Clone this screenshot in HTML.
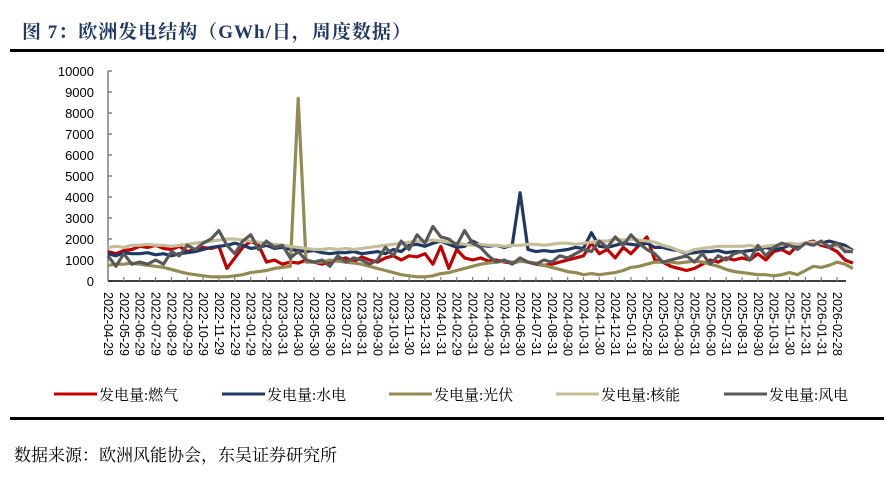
<!DOCTYPE html>
<html><head><meta charset="utf-8">
<style>
body{margin:0;background:#fff;width:886px;height:480px;overflow:hidden;position:relative;font-family:"Liberation Sans","Noto Sans CJK SC",sans-serif}
.title{position:absolute;left:22px;top:17px;font:bold 19px "Liberation Serif","Noto Serif CJK SC",serif;color:#1f3864;letter-spacing:1px}
.rule{position:absolute;left:10px;width:874px;height:3px;background:#000}
.src{position:absolute;left:14px;top:441px;font:17px "Liberation Serif","Noto Serif CJK SC",serif;color:#000}
</style></head><body>
<div class="title">图 7：欧洲发电结构（GWh/日，周度数据）</div>
<div class="rule" style="top:49px"></div>
<svg id="chart" width="886" height="480" style="position:absolute;left:0;top:0"></svg>
<div class="rule" style="top:417px"></div>
<div class="src">数据来源：欧洲风能协会，东吴证券研究所</div>
<script>
const xLabels=["2022-04-29","2022-05-29","2022-06-29","2022-07-29","2022-08-29","2022-09-29","2022-10-29","2022-11-29","2022-12-29","2023-01-29","2023-02-28","2023-03-31","2023-04-30","2023-05-30","2023-06-30","2023-07-31","2023-08-31","2023-09-30","2023-10-31","2023-11-30","2023-12-31","2024-01-31","2024-02-29","2024-03-31","2024-04-30","2024-05-31","2024-06-30","2024-07-31","2024-08-31","2024-09-30","2024-10-31","2024-11-30","2024-12-31","2025-01-31","2025-02-28","2025-03-31","2025-04-30","2025-05-31","2025-06-30","2025-07-31","2025-08-31","2025-09-30","2025-10-31","2025-11-30","2025-12-31","2026-01-31","2026-02-28"];
const yTicks=[0,1000,2000,3000,4000,5000,6000,7000,8000,9000,10000];
const seriesNames=["发电量:燃气","发电量:水电","发电量:光伏","发电量:核能","发电量:风电"];
const gas=[1400,1300,1450,1500,1650,1600,1700,1550,1500,1650,1400,1500,1600,1550,1650,600,1100,1600,1900,1700,900,1000,800,900,850,1000,900,800,900,1000,1100,900,1150,1000,900,1100,1200,1000,1200,1150,1300,800,1650,600,1500,1100,1000,1100,950,1000,900,850,950,900,800,750,800,900,1000,1100,1200,1800,1300,1500,1100,1600,1300,1700,2100,1000,900,700,600,500,600,800,1000,900,1100,1000,1100,1000,1300,1000,1400,1500,1300,1700,1800,1900,1700,1600,1400,1000,850];
const hydro=[1300,1200,1350,1300,1300,1350,1250,1300,1200,1300,1350,1400,1500,1600,1650,1700,1800,1700,1550,1600,1700,1550,1600,1500,1450,1400,1450,1350,1300,1350,1350,1400,1300,1350,1400,1300,1500,1400,1700,1750,1650,1800,1900,1750,1600,1650,1900,1700,1650,1700,1600,1700,4200,1500,1400,1450,1400,1450,1500,1600,1550,2300,1650,1600,1700,1800,1750,1700,1800,1600,1600,1500,1450,1300,1350,1400,1400,1450,1350,1400,1400,1450,1500,1600,1500,1550,1700,1650,1800,1750,1800,1900,1800,1700,1450];
const solar=[750,800,800,850,800,750,700,650,550,450,350,300,250,200,200,200,250,300,400,450,500,600,650,700,8700,900,900,900,1000,950,900,850,800,700,600,500,400,300,250,200,200,250,350,400,500,600,700,800,850,900,950,900,950,900,850,750,650,550,450,400,300,350,300,350,400,500,650,700,800,900,900,900,850,900,950,900,800,700,550,450,400,350,300,300,250,300,400,300,500,700,650,750,900,800,600];
const nuclear=[1600,1650,1600,1700,1700,1750,1700,1700,1650,1700,1750,1800,1850,1900,1950,2000,2000,1950,1900,1850,1800,1750,1700,1650,1600,1550,1500,1500,1550,1500,1550,1500,1550,1600,1650,1700,1750,1800,1850,1900,1900,1950,1900,1850,1800,1750,1700,1750,1700,1700,1650,1700,1700,1750,1750,1700,1750,1800,1800,1750,1800,1850,1900,1900,2000,1950,2000,1950,1900,1850,1700,1600,1450,1350,1500,1550,1600,1650,1650,1650,1650,1700,1600,1650,1700,1700,1800,1750,1800,1850,1800,1700,1650,1550,1400];
const wind=[1200,700,1300,800,900,800,1000,800,1400,1200,1700,1500,1800,2000,2400,1700,1300,1900,2200,1500,1900,1600,1700,1100,1400,1000,900,1000,700,1200,900,1100,1000,800,1000,1600,1200,1900,1500,2200,1800,2600,2100,2000,1700,2400,1800,1600,1200,900,1000,800,1100,900,800,1000,900,1200,1100,1300,1500,1400,1900,1600,2100,1700,2200,1800,1500,1300,900,1000,1100,1200,900,1300,800,1200,1000,1300,1400,1000,1700,1200,1600,1800,1700,1500,1800,1700,1900,1600,1800,1400,1400];
const colors=["#c00000","#1f3864","#948a54","#c4bd97","#595959"];

const NS="http://www.w3.org/2000/svg";
const svg=document.getElementById('chart');
const X0=108,Y0=281,YTOP=71,STEP=15.85;
const xPos=i=>X0+i*STEP/2;
const yPos=v=>Y0-(v/10000)*(Y0-YTOP);
function mk(tag,attrs){const e=document.createElementNS(NS,tag);for(const k in attrs)e.setAttribute(k,attrs[k]);svg.appendChild(e);return e;}

let ax=mk('line',{x1:X0,y1:YTOP,x2:X0,y2:Y0,stroke:'#7f7f7f','stroke-width':1.5});


yTicks.forEach(v=>{
  const y=yPos(v);
  const t=mk('line',{x1:X0,y1:y,x2:X0+4,y2:y,stroke:'#7f7f7f','stroke-width':1.5});
  
  
  const l=mk('text',{x:94,y:y+5,'text-anchor':'end','font-size':'13','font-family':'Liberation Sans, sans-serif',fill:'#000'});
  l.textContent=v;
  
  
});
const all=[gas,hydro,solar,nuclear,wind];
const snames=['series-gas','series-hydro','series-solar','series-nuclear','series-wind'];
[0,1,2,3,4].forEach(s=>{
  const d=all[s].map((v,i)=>(i?'L':'M')+xPos(i).toFixed(1)+' '+yPos(v).toFixed(1)).join(' ');
  const p=mk('path',{d:d,fill:'none',stroke:colors[s],'stroke-width':3.2,'stroke-linejoin':'round'});
  
  
});
let xa=mk('line',{x1:X0,y1:Y0,x2:846,y2:Y0,stroke:'#000','stroke-width':1.5});


xLabels.forEach((lab,i)=>{
  const x=X0+i*STEP;
  const t=mk('line',{x1:x,y1:Y0,x2:x,y2:Y0-4,stroke:'#7f7f7f','stroke-width':1.2});
  
  
  const l=mk('text',{x:0,y:0,transform:`translate(${x-4},292) rotate(90)`,'font-size':'12.5','font-family':'Liberation Sans, sans-serif',fill:'#000'});
  l.textContent=lab;
  
  
});
const legX=[54,222,389,556,724];
seriesNames.forEach((n,s)=>{
  const g=mk('g',{});
  
  
  const ln=document.createElementNS(NS,'line');
  [['x1',legX[s]],['x2',legX[s]+43],['y1',394],['y2',394],['stroke',colors[s]],['stroke-width',3]].forEach(a=>ln.setAttribute(a[0],a[1]));
  g.appendChild(ln);
  const tx=document.createElementNS(NS,'text');
  tx.setAttribute('x',legX[s]+45);tx.setAttribute('y',400);
  tx.setAttribute('font-size','15');
  tx.setAttribute('font-family','Liberation Serif, Noto Serif CJK SC, serif');
  tx.textContent=n;
  g.appendChild(tx);
});
</script>
</body></html>
